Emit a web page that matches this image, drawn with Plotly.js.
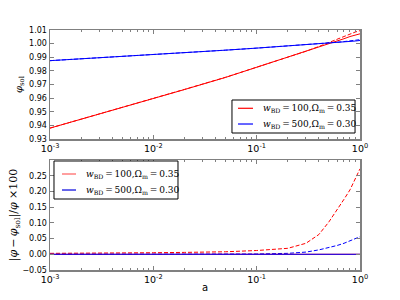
<!DOCTYPE html>
<html><head><meta charset="utf-8">
<script src="https://cdn.plot.ly/plotly-3.0.1.min.js"></script>
<style>html,body{margin:0;padding:0;background:#fff}#c{width:400px;height:300px}</style>
</head><body><div id="c"></div>
<script>
// scale factor a
const aVals = [0.001, 0.002, 0.005, 0.01, 0.02, 0.05, 0.1, 0.2, 0.3, 0.4, 0.5, 0.6, 0.7, 0.8, 0.9, 1.0];
// top panel: phi_sol (solid) and phi (dashed)
const phiSolRed  = [0.938, 0.9445, 0.953, 0.9596, 0.9663, 0.9752, 0.9826, 0.9897, 0.9941, 0.9973, 0.9998, 1.0018, 1.0036, 1.0052, 1.0064, 1.0072];
const phiRed     = [0.938, 0.9445, 0.953, 0.9597, 0.9664, 0.9753, 0.9827, 0.9899, 0.9944, 0.9979, 1.0008, 1.0032, 1.0054, 1.0072, 1.0085, 1.0095];
const phiSolBlue = [0.9875, 0.9888, 0.9906, 0.9919, 0.9933, 0.9952, 0.9967, 0.9982, 0.9991, 0.9998, 1.0003, 1.0007, 1.0011, 1.0015, 1.0019, 1.0023];
const phiBlue    = [0.9875, 0.9888, 0.9906, 0.9919, 0.9933, 0.9952, 0.9967, 0.9982, 0.9992, 0.9999, 1.0005, 1.0010, 1.0015, 1.0019, 1.0024, 1.0029];
// bottom panel: |phi - phi_sol|/phi x 100
const relRed   = [0.003, 0.003, 0.004, 0.005, 0.006, 0.008, 0.012, 0.019, 0.035, 0.063, 0.103, 0.140, 0.175, 0.205, 0.240, 0.272];
const relBlue  = [0.000, 0.000, 0.000, 0.000, 0.000, 0.001, 0.001, 0.003, 0.007, 0.014, 0.021, 0.028, 0.035, 0.042, 0.049, 0.056];
const relZero  = [0, 0, 0, 0, 0, 0, 0, 0, 0, 0, 0, 0, 0, 0, 0, 0];
const labelRed  = '<i>w</i><sub>BD</sub>\u2009=\u2009100,Ω<sub>m</sub>\u2009=\u20090.35';
const labelBlue = '<i>w</i><sub>BD</sub>\u2009=\u2009500,Ω<sub>m</sub>\u2009=\u20090.30';
const xTickVals = [0.001, 0.01, 0.1, 1];
const xTickText = ['10<sup>-3</sup>', '10<sup>-2</sup>', '10<sup>-1</sup>', '10<sup>0</sup>'];
const topYTicks = [0.93, 0.94, 0.95, 0.96, 0.97, 0.98, 0.99, 1.00, 1.01];
const botYTicks = [-0.05, 0.00, 0.05, 0.10, 0.15, 0.20, 0.25];

const RED = '#ff0000', BLUE = '#0000ff';
const traces = [
  {x: aVals, y: phiSolRed, mode: 'lines', line: {color: RED, width: 1}, xaxis: 'x', yaxis: 'y'},
  {x: aVals, y: phiRed, mode: 'lines', line: {color: RED, width: 1, dash: '4px,2px'}, xaxis: 'x', yaxis: 'y'},
  {x: aVals, y: phiSolBlue, mode: 'lines', line: {color: BLUE, width: 1}, xaxis: 'x', yaxis: 'y'},
  {x: aVals, y: phiBlue, mode: 'lines', line: {color: BLUE, width: 1, dash: '4px,2px'}, xaxis: 'x', yaxis: 'y'},
  {x: aVals, y: relRed, mode: 'lines', line: {color: RED, width: 1, dash: '4px,2px'}, xaxis: 'x2', yaxis: 'y2'},
  {x: aVals, y: relBlue, mode: 'lines', line: {color: BLUE, width: 1, dash: '4px,2px'}, xaxis: 'x2', yaxis: 'y2'},
  {x: aVals, y: relZero, mode: 'lines', line: {color: RED, width: 1}, xaxis: 'x2', yaxis: 'y2'},
  {x: aVals, y: relZero, mode: 'lines', line: {color: BLUE, width: 1}, xaxis: 'x2', yaxis: 'y2'}
];

const tickFont = {family: 'DejaVu Sans', size: 8, color: '#000'};
const frame = {showline: true, linecolor: '#808080', linewidth: 1.5, mirror: 'ticks', ticks: 'inside', ticklen: 4, tickcolor: '#808080', showgrid: false, zeroline: false, tickfont: tickFont};
const xBase = Object.assign({}, frame, {type: 'log', range: [-3, 0], tickmode: 'array', tickvals: xTickVals, ticktext: xTickText,
  tickfont: {family: 'DejaVu Sans', size: 9.5, color: '#000'},
  minor: {ticks: 'inside', ticklen: 2, tickcolor: '#808080', dtick: 'D1', showgrid: false}});

// manual legends (paper coordinates)
function legendBox(x0, x1, y0, y1) {
  return {type: 'rect', xref: 'paper', yref: 'paper', x0: x0, x1: x1, y0: y0, y1: y1, line: {color: '#000', width: 1}, fillcolor: '#fff', layer: 'above'};
}
function legendLine(x0, x1, y, color) {
  return {type: 'line', xref: 'paper', yref: 'paper', x0: x0, x1: x1, y0: y, y1: y, line: {color: color, width: 1.2}, layer: 'above'};
}
function legendText(x, y, text) {
  return {xref: 'paper', yref: 'paper', x: x, y: y, xanchor: 'left', yanchor: 'middle', text: text, showarrow: false,
    font: {family: 'DejaVu Serif', size: 9, color: '#000'}};
}
const shapes = [
  legendBox(0.587, 0.984, 0.5708, 0.7083),
  legendLine(0.6065, 0.6548, 0.6738, RED),
  legendLine(0.6065, 0.6548, 0.6083, BLUE),
  legendBox(0.0129, 0.4129, 0.2958, 0.4542),
  legendLine(0.0387, 0.0839, 0.4, '#ff6060'),
  legendLine(0.0387, 0.0839, 0.3333, '#0000dd')
];
const annotations = [
  legendText(0.681, 0.672, labelRed),
  legendText(0.681, 0.605, labelBlue),
  legendText(0.110, 0.398, labelRed),
  legendText(0.110, 0.331, labelBlue)
];

const layout = {
  width: 400, height: 300,
  margin: {l: 50, r: 40, t: 30, b: 30},
  paper_bgcolor: '#fff', plot_bgcolor: '#fff',
  font: {family: 'DejaVu Sans', size: 8, color: '#000'},
  showlegend: false,
  xaxis: Object.assign({}, xBase, {domain: [0, 1], anchor: 'y'}),
  yaxis: Object.assign({}, frame, {domain: [0.5458, 1], anchor: 'x', range: [0.93, 1.01], tickmode: 'array', tickvals: topYTicks, tickformat: '.2f',
    title: {text: '<i>φ</i><sub>sol</sub>', font: {family: 'DejaVu Serif', size: 10}, standoff: 4}}),
  xaxis2: Object.assign({}, xBase, {domain: [0, 1], anchor: 'y2', title: {text: 'a', font: {family: 'DejaVu Sans', size: 10}, standoff: 0}}),
  yaxis2: Object.assign({}, frame, {domain: [0, 0.4583], anchor: 'x2', range: [-0.05, 0.30], tickmode: 'array', tickvals: botYTicks, tickformat: '.2f',
    title: {text: '|<i>φ</i>\u2009−\u2009<i>φ</i><sub>sol</sub>|/<i>φ</i> ×100', font: {family: 'DejaVu Serif', size: 11}, standoff: 2}}),
  shapes: shapes,
  annotations: annotations
};

Plotly.newPlot('c', traces, layout, {staticPlot: true, displayModeBar: false});
</script>
</body></html>
